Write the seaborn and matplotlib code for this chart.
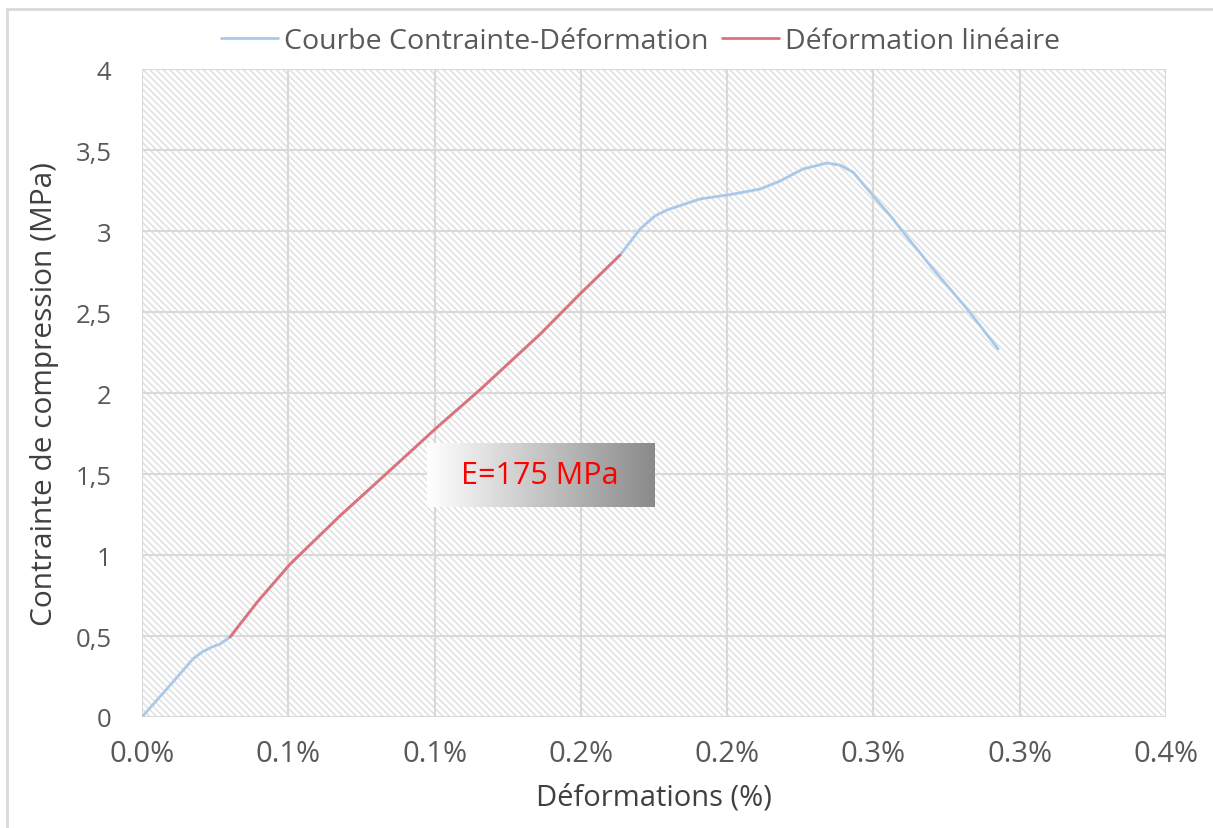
import numpy as np
import matplotlib
matplotlib.use("Agg")
import matplotlib.pyplot as plt
from matplotlib.patches import Rectangle
from matplotlib.lines import Line2D
import seaborn as sns

# courbe contrainte-deformation (deformation en %, contrainte en MPa)
deform = [0.0, 0.0088, 0.0174, 0.0205, 0.0239, 0.0267, 0.0301, 0.0394, 0.0506,
          0.0676, 0.0840, 0.1002, 0.1155, 0.1361, 0.1496, 0.1634, 0.1702, 0.1753,
          0.1794, 0.1907, 0.2020, 0.2112, 0.2181, 0.2259, 0.2341, 0.2386, 0.2430,
          0.2488, 0.2567, 0.2615, 0.2704, 0.2820, 0.2926]
contrainte = [0.0, 0.180, 0.358, 0.401, 0.432, 0.451, 0.494, 0.710, 0.944,
              1.241, 1.510, 1.778, 2.020, 2.364, 2.610, 2.852, 3.012, 3.093,
              3.130, 3.198, 3.228, 3.259, 3.309, 3.383, 3.420, 3.407, 3.364,
              3.241, 3.074, 2.963, 2.765, 2.519, 2.272]

# partie lineaire
deform_lin = [0.0301, 0.0394, 0.0506, 0.0676, 0.0840, 0.1002, 0.1155, 0.1361,
              0.1496, 0.1634]
contrainte_lin = [0.494, 0.710, 0.944, 1.241, 1.510, 1.778, 2.020, 2.364,
                  2.610, 2.852]

x_ticks = [0.0, 0.05, 0.10, 0.15, 0.20, 0.25, 0.30, 0.35]
x_labels = ['0.0%', '0.1%', '0.1%', '0.2%', '0.2%', '0.3%', '0.3%', '0.4%']
y_ticks = [0, 0.5, 1, 1.5, 2, 2.5, 3, 3.5, 4]
y_labels = ['0', '0,5', '1', '1,5', '2', '2,5', '3', '3,5', '4']

module_txt = "E=175 MPa"

sns.set_theme(style="white")
plt.rcParams['font.family'] = ['Open Sans', 'DejaVu Sans']
plt.rcParams['hatch.linewidth'] = 1.1
plt.rcParams['hatch.color'] = '#e0e0e0'

gris = '#595959'
bleu = '#a9c9e8'
rouge = '#e0707a'

fig = plt.figure(figsize=(12.13, 8.29), dpi=100)
ax = fig.add_axes([0.1171, 0.1339, 0.8442, 0.7816])

# fond hachure
ax.add_patch(Rectangle((0, 0), 1, 1, transform=ax.transAxes, facecolor='white',
                       edgecolor='#e0e0e0', hatch='\\\\\\\\\\', lw=0, zorder=0))

sns.lineplot(x=deform, y=contrainte, sort=False, color=bleu, lw=2,
             label='Courbe Contrainte-Déformation', ax=ax, zorder=3)
sns.lineplot(x=deform_lin, y=contrainte_lin, sort=False, color=rouge, lw=2,
             label='Déformation linéaire', ax=ax, zorder=4)

ax.set_xticks(x_ticks)
ax.set_xticklabels(x_labels)
ax.set_yticks(y_ticks)
ax.set_yticklabels(y_labels)
ax.tick_params(axis='both', length=0, labelcolor=gris)
ax.tick_params(axis='x', pad=16, labelsize=21)
ax.tick_params(axis='y', pad=22, labelsize=18.5)
ax.grid(True, color='#d9d9d9', lw=1.5, zorder=1)
ax.set_axisbelow(True)
for s in ax.spines.values():
    s.set_visible(False)

ax.set_xlabel('Déformations (%)', fontsize=21, color='#404040', labelpad=10)
ax.set_ylabel('Contrainte de compression (MPa)', fontsize=21.5, color='#404040', labelpad=12)

# encadre degrade pour le module
grad = np.linspace(0, 1, 256).reshape(1, -1)
ax.imshow(grad, extent=(0.0974, 0.175, 1.296, 1.691), aspect='auto',
          cmap=matplotlib.colors.LinearSegmentedColormap.from_list('g', ['#ffffff', '#8a8a8a']),
          zorder=5)
ax.text(0.1361, 1.494, module_txt, color='#ff0000', fontsize=22,
        ha='center', va='center', zorder=6)
ax.set_xlim(0, 0.35)
ax.set_ylim(0, 4)

ax.get_legend().remove()
h, l = ax.get_legend_handles_labels()
fig.legend(h, l, loc='center', bbox_to_anchor=(0.528, 0.949), ncol=2, frameon=False,
           fontsize=20.5, labelcolor=gris, handlelength=2.0, handletextpad=0.2,
           columnspacing=0.5)

# cadre du graphique
fig.add_artist(Line2D([7 / 1213, 7 / 1213], [0, 1 - 10 / 829], color='#d9d9d9', lw=2))
fig.add_artist(Line2D([7 / 1213, 1], [1 - 10 / 829, 1 - 10 / 829], color='#d9d9d9', lw=2))

fig.savefig('out.png', dpi=100)
